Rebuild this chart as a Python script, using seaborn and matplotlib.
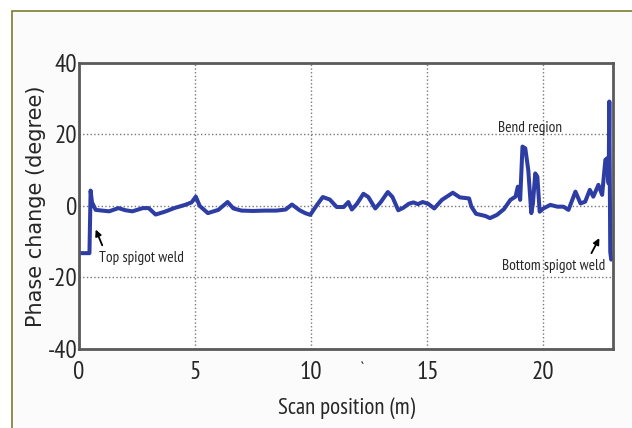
import numpy as np
import pandas as pd
import matplotlib
matplotlib.use("Agg")
import matplotlib.pyplot as plt
import seaborn as sns
from matplotlib import font_manager
from matplotlib.patches import Rectangle

# scan trace
pos = [0.0, 0.45, 0.5, 0.56, 0.72, 1.0, 1.3, 1.7, 2.0, 2.3,
       2.75, 3.0, 3.3, 3.7, 4.1, 4.57, 4.85, 5.03, 5.2, 5.55,
       6.0, 6.4, 6.65, 7.0, 7.5, 8.0, 8.5, 8.9, 9.17, 9.5,
       9.74, 9.96, 10.24, 10.5, 10.8, 11.1, 11.4, 11.6, 11.75, 11.97,
       12.25, 12.46, 12.76, 13.0, 13.3, 13.5, 13.75, 13.97, 14.2, 14.4,
       14.6, 14.8, 15.04, 15.3, 15.63, 16.1, 16.4, 16.8, 16.9, 17.1,
       17.5, 17.7, 18.0, 18.3, 18.58, 18.8, 18.9, 19.0, 19.1, 19.22,
       19.35, 19.48, 19.55, 19.65, 19.74, 19.84, 20.0, 20.3, 20.6, 20.86,
       21.08, 21.38, 21.6, 21.8, 22.0, 22.15, 22.37, 22.53, 22.67, 22.74,
       22.81, 22.84, 22.88, 22.92]
phase = [-13.2, -13.2, 4.3, 1.0, -1.1, -1.3, -1.5, -0.6, -1.2, -1.5,
         -0.6, -0.6, -2.4, -1.6, -0.6, 0.3, 1.0, 2.6, 0.0, -2.0,
         -1.1, 1.1, -0.7, -1.3, -1.4, -1.3, -1.3, -1.0, 0.4, -1.2,
         -2.0, -2.5, 0.2, 2.5, 1.8, -0.3, -0.3, 1.1, -1.0, 0.6,
         3.4, 2.5, -0.7, 1.1, 3.9, 2.5, -1.2, -0.5, 0.6, 1.0,
         0.5, 1.1, 0.6, -0.7, 1.7, 3.7, 2.4, 2.1, -0.2, -2.2,
         -2.8, -3.4, -2.5, -0.9, 1.7, 2.6, 5.4, 1.7, 16.6, 16.1,
         10.0, -2.0, 0.7, 9.1, 8.2, -1.6, -0.7, 0.3, -0.2, -0.2,
         -1.1, 4.0, 0.7, 1.2, 4.5, 2.6, 5.9, 3.1, 12.9, 13.3,
         6.3, 29.2, -12.8, -15.0]

xticks = [0, 5, 10, 15, 20]
yticks = [-40, -20, 0, 20, 40]

df = pd.DataFrame({"pos": pos, "phase": phase})

sns.set_style("white")


def narrow_font(size):
    # look for any condensed / narrow face on the system
    best = None
    for f in font_manager.fontManager.ttflist:
        name = (f.name + " " + f.fname).lower()
        if f.weight not in (400, "normal", "regular"):
            continue
        if "italic" in f.fname.lower() or f.style != "normal":
            continue
        if "narrow" in name or "condensed" in name or \
                f.stretch in ("condensed", "semi-condensed", 500 - 100, 300):
            if "sans" in name or "roboto" in name or "lato" in name:
                if "extra" in name or "ultra" in name:
                    continue
                best = f.fname
                if "narrow" in name:
                    break
    if best is None:
        return font_manager.FontProperties(family="DejaVu Sans",
                                           stretch="condensed", size=size)
    return font_manager.FontProperties(fname=best, size=size)


fig = plt.figure(figsize=(6.32, 4.28), dpi=100)
fig.patch.set_facecolor("white")
# olive frame around the figure panel
frame = Rectangle((12 / 632, -0.05), 1.1, 1 - 11 / 428 + 0.05,
                  transform=fig.transFigure, fill=True,
                  facecolor="#fbfbfb", edgecolor="#7d7d2e",
                  linewidth=1.2, zorder=-10)
fig.patches.append(frame)

ax = fig.add_axes([0.125, 0.1846, 0.845, 0.6684])
ax.set_facecolor("white")

sns.lineplot(data=df, x="pos", y="phase", sort=False, estimator=None,
             color="#2e3da3", linewidth=2.9, ax=ax)

ax.set_xlim(0, 23)
ax.set_ylim(-40, 40)
ax.set_xticks(xticks)
ax.set_yticks(yticks)
ax.set_xticklabels([str(t) for t in xticks], fontproperties=narrow_font(18))
ax.set_yticklabels([str(t) for t in yticks], fontproperties=narrow_font(18))
ax.tick_params(axis="x", direction="in", length=3, pad=9, color="#555555")
ax.tick_params(axis="y", direction="in", length=3, pad=1, color="#555555")

ax.grid(True, linestyle=":", color="#777777", linewidth=1)
for s in ax.spines.values():
    s.set_color("#5a5a5a")
    s.set_linewidth(2)

ax.set_xlabel("Scan position (m)", fontproperties=narrow_font(16.5),
              labelpad=9)
ax.set_ylabel("Phase change (degree)", family="DejaVu Sans", fontsize=15,
              labelpad=1)

note = narrow_font(11)
ax.text(0.86, -14.5, "Top spigot weld", fontproperties=note,
        va="center", ha="left")
ax.annotate("", xy=(0.72, -6.6), xytext=(1.0, -11.0),
            arrowprops=dict(arrowstyle="-|>", color="black", lw=1.3,
                            mutation_scale=9, shrinkA=0, shrinkB=0))
ax.text(19.44, 21.8, "Bend region", fontproperties=note,
        ha="center", va="center")
ax.text(22.65, -16.8, "Bottom spigot weld", fontproperties=note,
        va="center", ha="right")
ax.annotate("", xy=(22.41, -9.0), xytext=(22.07, -13.2),
            arrowprops=dict(arrowstyle="-|>", color="black", lw=1.3,
                            mutation_scale=9, shrinkA=0, shrinkB=0))
ax.text(12.2, -43.5, "`", fontproperties=narrow_font(13), ha="center",
        va="top")

fig.savefig("out.png", dpi=100)
